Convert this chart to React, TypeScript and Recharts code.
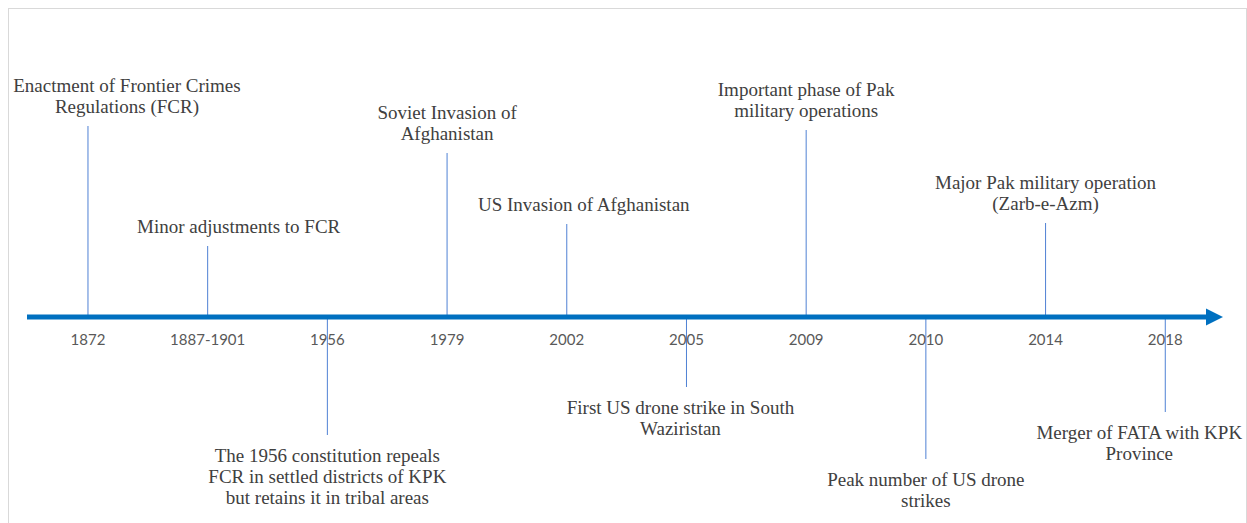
import React from 'react';
import { ComposedChart, Bar, XAxis, YAxis, ReferenceLine } from 'recharts';

// timeline milestones
const years = ['1872', '1887-1901', '1956', '1979', '2002', '2005', '2009', '2010', '2014', '2018'];

// stem length; positive goes above the axis, negative below
const stemLengths = [191, 71, -118, 164, 93, -70, 187, -142, 94, -95];

const eventLines = [
  ['Enactment of Frontier Crimes', 'Regulations (FCR)'],
  ['Minor adjustments to FCR'],
  ['The 1956 constitution repeals', 'FCR in settled districts of KPK', 'but retains it in tribal areas'],
  ['Soviet Invasion of', 'Afghanistan'],
  ['US Invasion of Afghanistan'],
  ['First US drone strike in South', 'Waziristan'],
  ['Important phase of Pak', 'military operations'],
  ['Peak number of US drone', 'strikes'],
  ['Major Pak military operation', '(Zarb-e-Azm)'],
  ['Merger of FATA with KPK', 'Province'],
];

// horizontal nudge of some captions (layout only)
const captionShift = [39, 31, 0, 0, 17, -6, 0, 0, 0, -26];

const data = years.map((year, i) => ({ year, stem: stemLengths[i], lines: eventLines[i] }));

const AXIS_BLUE = '#0070C0';
const STEM_BLUE = '#4F81D4';
const LINE_H = 21;
const GAP = 20;

const Milestone = (props: any) => {
  const { x, y, width, height, index, payload } = props;
  const cx = x + width / 2;
  const y1 = y;
  const y2 = y + height;
  const up = payload.stem >= 0;
  const zeroY = up ? Math.max(y1, y2) : Math.min(y1, y2);
  const endY = up ? Math.min(y1, y2) : Math.max(y1, y2);
  const lines: string[] = payload.lines;
  const tx = cx + captionShift[index];
  const firstY = up ? endY - GAP - (lines.length - 1) * LINE_H : endY + GAP;
  return (
    <g>
      <line x1={cx} x2={cx} y1={zeroY} y2={endY} stroke={STEM_BLUE} strokeWidth={1} />
      <text
        x={cx}
        y={zeroY + 22}
        textAnchor="middle"
        dominantBaseline="central"
        fill="#595959"
        fontFamily="Lato, 'Open Sans', sans-serif"
        fontSize={15}
      >
        {payload.year}
      </text>
      <text
        textAnchor="middle"
        fill="#404040"
        fontFamily="'Liberation Serif', serif"
        fontSize={19}
      >
        {lines.map((t, k) => (
          <tspan key={k} x={tx} y={firstY + k * LINE_H} dominantBaseline="central">
            {t}
          </tspan>
        ))}
      </text>
    </g>
  );
};

const TimelineAxis = (props: any) => {
  const { x1, x2, y1 } = props;
  const tip = x2 - 2;
  return (
    <g>
      <line x1={x1 - 1} x2={tip - 16} y1={y1} y2={y1} stroke={AXIS_BLUE} strokeWidth={5} />
      <polygon points={`${tip - 17},${y1 - 8.5} ${tip},${y1} ${tip - 17},${y1 + 8.5}`} fill={AXIS_BLUE} />
    </g>
  );
};

export default function App() {
  return (
    <div
      style={{
        width: 1239,
        height: 515,
        boxSizing: 'border-box',
        border: '1px solid #d9d9d9',
        borderBottom: 'none',
        background: '#fff',
      }}
    >
      <style>
        {'html, body { overflow: hidden; } body { margin: 8px 0 0 8px; } .recharts-surface { overflow: visible; }'}
      </style>
      <ComposedChart width={1237} height={514} data={data} margin={{ top: 0, right: 21, bottom: 0, left: 19 }}>
        <XAxis dataKey="year" hide />
        <YAxis hide domain={[-206, 308]} />
        <ReferenceLine y={0} ifOverflow="visible" shape={TimelineAxis} />
        <Bar dataKey="stem" isAnimationActive={false} shape={Milestone} />
      </ComposedChart>
    </div>
  );
}
